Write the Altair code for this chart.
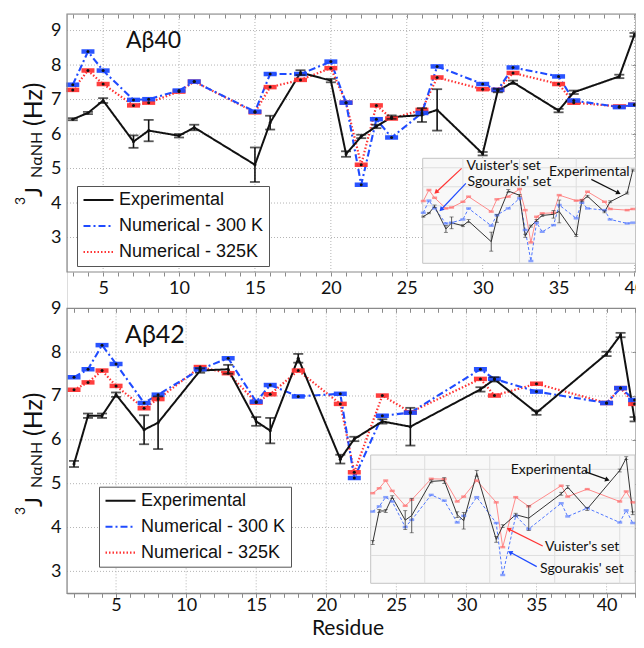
import math
import altair as alt
import pandas as pd

FONT = "Lato"
LFONT = "Liberation Sans"
BLACK = "#111111"
BLUE = "#1f4bff"
RED = "#ff3434"
GRID = "#b4b4b4"
FRAME = "#8a8a8a"
SER = ["Experimental", "Numerical - 300 K", "Numerical - 325K"]

# ---------------- A-beta 40 ----------------
res40 = [3, 4, 5, 7, 8, 10, 11, 15, 16, 18, 20, 21, 22, 23, 24, 26, 27, 30, 31, 32, 35, 36, 39, 40]
exp40 = [6.43, 6.61, 6.97, 5.78, 6.10, 5.95, 6.19, 5.11, 6.33, 7.78, 7.55, 5.42,
         5.93, 6.22, 6.49, 6.55, 6.70, 5.43, 7.26, 7.50, 6.68, 7.21, 7.67, 8.88]
err40 = [0.03, 0.03, 0.07, 0.18, 0.31, 0.05, 0.08, 0.50, 0.20, 0.07, 0.05, 0.08,
         0.05, 0.05, 0.05, 0.20, 0.60, 0.05, 0.05, 0.05, 0.05, 0.05, 0.05, 0.05]
n300_40 = [7.43, 8.39, 7.84, 6.99, 7.01, 7.26, 7.52, 6.65, 7.74, 7.74, 8.10, 6.91,
           4.53, 6.43, 5.90, 6.61, 7.96, 7.45, 7.28, 7.93, 7.67, 6.97, 6.78, 6.85]
n325_40 = [7.28, 7.84, 7.45, 6.83, 6.91, 7.23, 7.52, 6.63, 7.36, 7.57, 7.91, 6.91,
           5.11, 6.83, 6.45, 6.70, 7.64, 7.30, 7.28, 7.77, 7.45, 6.91, 6.80, 6.85]
vu40 = [7.25, 7.83, 7.42, 6.86, 6.91, 7.21, 7.48, 6.69, 7.34, 7.48, 7.88, 6.77,
        5.07, 6.42, 6.60, 6.63, 7.56, 7.27, 7.30, 7.74, 7.21, 6.83, 6.77, 6.83]
sg40 = [6.63, 7.27, 6.86, 6.07, 6.11, 6.28, 6.86, 5.95, 6.51, 6.86, 7.39, 5.72,
        4.09, 6.11, 5.63, 5.98, 7.04, 6.34, 7.16, 6.86, 6.77, 6.28, 6.07, 6.11]

# ---------------- A-beta 42 ----------------
res42 = [2, 3, 4, 5, 7, 8, 11, 13, 15, 16, 18, 21, 22, 24, 26, 31, 32, 35, 40, 41, 42]
exp42 = [5.45, 6.55, 6.55, 7.03, 6.23, 6.39, 7.58, 7.61, 6.42, 6.21, 7.86, 5.56,
         6.02, 6.42, 6.30, 7.15, 7.38, 6.62, 7.96, 8.39, 6.47]
err42 = [0.07, 0.05, 0.05, 0.05, 0.33, 0.60, 0.05, 0.10, 0.10, 0.29, 0.10, 0.10,
         0.05, 0.05, 0.43, 0.05, 0.05, 0.05, 0.05, 0.05, 0.05]
n300_42 = [7.43, 7.61, 8.16, 7.73, 6.84, 7.03, 7.61, 7.86, 6.87, 7.25, 6.99, 7.05,
           5.13, 6.55, 6.62, 7.61, 7.39, 7.10, 6.84, 7.18, 6.91]
n325_42 = [7.14, 7.31, 7.58, 7.23, 6.72, 6.93, 7.66, 7.52, 6.85, 7.04, 7.58, 6.82,
           5.26, 7.01, 6.63, 7.39, 7.01, 7.28, 6.84, 7.18, 6.82]
vu42 = [7.17, 7.34, 7.61, 7.25, 6.73, 6.94, 7.67, 7.66, 6.88, 7.05, 7.61, 6.85,
        5.29, 7.03, 6.71, 7.43, 7.05, 7.31, 6.88, 7.23, 6.85]
sg42 = [6.53, 6.71, 7.03, 6.88, 5.99, 6.24, 7.11, 6.91, 6.15, 6.38, 7.03, 6.13,
        4.32, 6.38, 5.92, 6.82, 6.36, 6.65, 6.15, 6.57, 6.13]

# inset annotations (inset data units)
ann40_text = ["Vuister's set", "Sgourakis' set", "Experimental"]
ann40_r = [10.65, 10.82, 25.2]
ann40_v = [9.09, 8.27, 8.79]
arr40 = {"r1": [9.77, 10.52, 32.67], "v1": [8.97, 8.18, 8.39],
         "r2": [5.36, 6.24, 37.36], "v2": [7.74, 6.83, 7.69],
         "c": [RED, BLUE, BLACK]}
ann42_text = ["Experimental", "Vuister's set", "Sgourakis' set"]
ann42_r = [23.23, 28.5, 27.74]
ann42_v = [7.98, 5.28, 4.52]
arr42 = {"r1": [34.66, 28.15, 27.23], "v1": [7.92, 5.33, 4.61],
         "r2": [38.0, 23.02, 23.23], "v2": [7.65, 5.91, 5.10],
         "c": [BLACK, RED, BLUE]}

W = 569
HT = 580  # whole plotting group height (both panels)


def panel(P):
    xd, yd, yr = P["xdom"], P["ydom"], P["yrng"]
    top_px, bot_px = yr[1], yr[0]
    df = pd.DataFrame({
        "r": P["res"], "exp": P["exp"],
        "lo": [e - s for e, s in zip(P["exp"], P["err"])],
        "hi": [e + s for e, s in zip(P["exp"], P["err"])],
        "n300": P["n300"], "n325": P["n325"], "vu": P["vu"], "sg": P["sg"],
    })

    def X(f, axis=None):
        return alt.X(f"{f}:Q", scale=alt.Scale(domain=xd, range=[0, W], nice=False, zero=False), axis=axis)

    def Y(f, axis=None):
        return alt.Y(f"{f}:Q", scale=alt.Scale(domain=yd, range=yr, nice=False, zero=False), axis=axis)

    ixd, ixr, iyd, iyr = P["ixd"], P["ixr"], P["iyd"], P["iyr"]

    def IX(f):
        return alt.X(f"{f}:Q", scale=alt.Scale(domain=ixd, range=ixr, nice=False, zero=False), axis=None)

    def IY(f):
        return alt.Y(f"{f}:Q", scale=alt.Scale(domain=iyd, range=iyr, nice=False, zero=False), axis=None)

    base = alt.Chart(df)
    L = []
    # grid lines
    vg = pd.DataFrame({"g": list(range(5, 41, 5)), "y0": yd[0], "y1": yd[1]})
    L.append(alt.Chart(vg).mark_rule(color=GRID, strokeWidth=1, strokeDash=[1, 2]).encode(
        x=X("g"), y=Y("y0"), y2="y1"))
    hg = pd.DataFrame({"g": [v for v in range(3, 10) if v < yd[1]], "x0": xd[0], "x1": xd[1]})
    L.append(alt.Chart(hg).mark_rule(color=GRID, strokeWidth=1, strokeDash=[1, 2]).encode(
        y=Y("g"), x=X("x0"), x2="x1"))

    # axes
    off_bottom = bot_px - HT
    xaxis = alt.Axis(values=list(range(5, 45, 5)), grid=False, ticks=False, tickSize=0, domain=False,
                     labelFont=FONT, labelFontSize=18, labelColor=BLACK,
                     labelPadding=P["xlabpad"], offset=off_bottom, orient="bottom", title=None)
    yaxis = alt.Axis(values=list(range(3, 10)), grid=False, ticks=False, tickSize=0, domain=False,
                     labelFont=FONT, labelFontSize=18, labelColor=BLACK, labelPadding=6,
                     title=None, orient="left")
    L.append(base.mark_point(opacity=0).encode(x=X("r", xaxis), y=Y("exp", yaxis)))
    minor = list(range(int(math.ceil(xd[0])), int(xd[1]) + 1))
    L.append(base.mark_point(opacity=0).encode(
        x=X("r", alt.Axis(values=minor, labels=False, grid=False, domain=False, tickSize=4,
                          tickColor=FRAME, title=None, offset=off_bottom, orient="bottom")), y=Y("exp")))
    L.append(base.mark_point(opacity=0).encode(
        x=X("r", alt.Axis(values=minor, labels=False, grid=False, domain=False, tickSize=4,
                          tickColor=FRAME, title=None, offset=top_px - HT, orient="bottom")), y=Y("exp")))
    L.append(base.mark_point(opacity=0).encode(
        x=X("r"), y=Y("exp", alt.Axis(values=list(range(3, 10)), labels=False, grid=False,
                                      domain=False, tickSize=4, tickColor=FRAME, title=None,
                                      offset=-W, orient="left"))))

    # main lines with legend
    long = pd.concat([
        pd.DataFrame({"r": P["res"], "v": P["n325"], "series": SER[2], "k": 0}),
        pd.DataFrame({"r": P["res"], "v": P["n300"], "series": SER[1], "k": 1}),
        pd.DataFrame({"r": P["res"], "v": P["exp"], "series": SER[0], "k": 2}),
    ])
    leg = alt.Legend(orient="none", legendX=P["legx"], legendY=P["legy"], title=None,
                     fillColor="white", strokeColor="#555555", padding=5,
                     symbolType="stroke", symbolSize=900, symbolStrokeWidth=2,
                     labelFont=LFONT, labelFontSize=18, labelColor=BLACK, labelOffset=4,
                     rowPadding=8, clipHeight=18, labelLimit=300)
    L.append(alt.Chart(long).mark_line().encode(
        x=X("r"), y=Y("v"),
        color=alt.Color("series:N", scale=alt.Scale(domain=SER, range=[BLACK, BLUE, RED]), legend=leg),
        strokeDash=alt.StrokeDash("series:N", scale=alt.Scale(domain=SER, range=[[1, 0], [7, 3, 2, 3], [1.5, 2]]), legend=leg),
        strokeWidth=alt.StrokeWidth("series:N", scale=alt.Scale(domain=SER, range=[2, 2.2, 1.6]), legend=None),
        detail="k:N",
    ))
    L.append(base.mark_tick(orient="horizontal", size=13, thickness=4.5, color=RED, opacity=0.95).encode(x=X("r"), y=Y("n325")))
    L.append(base.mark_tick(orient="horizontal", size=13, thickness=4.5, color=BLUE, opacity=0.95).encode(x=X("r"), y=Y("n300")))
    L.append(base.mark_rule(color=BLACK, strokeWidth=1.6).encode(x=X("r"), y=Y("lo"), y2="hi:Q"))
    L.append(base.mark_tick(orient="horizontal", size=10, thickness=1.8, color=BLACK).encode(x=X("r"), y=Y("lo")))
    L.append(base.mark_tick(orient="horizontal", size=10, thickness=1.8, color=BLACK).encode(x=X("r"), y=Y("hi")))
    for f in ["n325", "n300", "exp"]:
        L.append(base.mark_point(filled=True, size=9, color=BLACK, opacity=1).encode(x=X("r"), y=Y(f)))

    # frame of the panel
    fr = pd.DataFrame({"x0": [xd[0]], "x1": [xd[1]], "y0": [yd[0]], "y1": [yd[1]]})
    L.append(alt.Chart(fr).mark_rect(fill=None, stroke=FRAME, strokeWidth=1.2).encode(
        x=X("x0"), x2="x1", y=Y("y0"), y2="y1"))

    # ---- inset ----
    box = pd.DataFrame({"x0": [ixd[0]], "x1": [ixd[1]], "y0": [iyd[0]], "y1": [iyd[1]]})
    L.append(alt.Chart(box).mark_rect(fill="#f8f8f8", stroke="#c4c4c4", strokeWidth=1).encode(
        x=IX("x0"), x2="x1", y=IY("y0"), y2="y1"))
    ivg = pd.DataFrame({"g": P["ivgrid"], "y0": iyd[0], "y1": iyd[1]})
    L.append(alt.Chart(ivg).mark_rule(color="#dedede", strokeWidth=1).encode(x=IX("g"), y=IY("y0"), y2="y1"))
    ihg = pd.DataFrame({"g": P["ihgrid"], "x0": ixd[0], "x1": ixd[1]})
    L.append(alt.Chart(ihg).mark_rule(color="#dedede", strokeWidth=1).encode(y=IY("g"), x=IX("x0"), x2="x1"))
    L.append(base.mark_line(color="#ff8c8c", strokeWidth=1).encode(x=IX("r"), y=IY("vu")))
    L.append(base.mark_line(color="#5077ff", strokeWidth=1, strokeDash=[3, 2]).encode(x=IX("r"), y=IY("sg")))
    L.append(base.mark_line(color="#333333", strokeWidth=1).encode(x=IX("r"), y=IY("exp")))
    L.append(base.mark_tick(orient="horizontal", size=5, thickness=2.5, color="#ff6a6a").encode(x=IX("r"), y=IY("vu")))
    L.append(base.mark_tick(orient="horizontal", size=5, thickness=2.5, color="#5a7dff").encode(x=IX("r"), y=IY("sg")))
    L.append(base.mark_rule(color="#333333", strokeWidth=0.8).encode(x=IX("r"), y=IY("lo"), y2="hi:Q"))
    L.append(base.mark_tick(orient="horizontal", size=4, thickness=0.8, color="#333333").encode(x=IX("r"), y=IY("lo")))
    L.append(base.mark_tick(orient="horizontal", size=4, thickness=0.8, color="#333333").encode(x=IX("r"), y=IY("hi")))

    ann = pd.DataFrame({"t": P["ann_t"], "r": P["ann_r"], "v": P["ann_v"]})
    L.append(alt.Chart(ann).mark_text(align="left", baseline="middle", font=FONT, fontSize=14, color=BLACK).encode(
        x=IX("r"), y=IY("v"), text="t:N"))
    arr = pd.DataFrame(P["arr"])
    sx = (ixr[1] - ixr[0]) / (ixd[1] - ixd[0])
    sy = (iyr[0] - iyr[1]) / (iyd[1] - iyd[0])
    arr["a"] = [(math.degrees(math.atan2((r2 - r1) * sx, (v2 - v1) * sy)) + 360) % 360
                for r1, v1, r2, v2 in zip(arr.r1, arr.v1, arr.r2, arr.v2)]
    L.append(alt.Chart(arr).mark_rule(strokeWidth=1.2).encode(
        x=IX("r1"), y=IY("v1"), x2="r2", y2="v2", color=alt.Color("c:N", scale=None)))
    L.append(alt.Chart(arr).mark_point(shape="triangle", filled=True, size=28, opacity=1).encode(
        x=IX("r2"), y=IY("v2"), angle=alt.Angle("a:Q", scale=None), color=alt.Color("c:N", scale=None)))

    # panel label and y title pieces
    one = pd.DataFrame({"k": [0]})
    L.append(alt.Chart(one).mark_text(text=P["label"], font=FONT, fontSize=P["labsize"], align="left",
                                      baseline="alphabetic", color=BLACK).encode(
        x=alt.value(P["labx"]), y=alt.value(top_px + P["laby"])))
    c = P["tc"]
    pieces = [("3", 14, -42, c + 66), ("J", 24, -25, c + 58), ("NαNH", 16, -25, c + 39), ("(Hz)", 25, -25, c - 13)]
    for t, fs, bx, sy0 in pieces:
        L.append(alt.Chart(one).mark_text(text=t, font=FONT, fontSize=fs, angle=270, align="left",
                                          baseline="alphabetic", color=BLACK).encode(
            x=alt.value(bx), y=alt.value(sy0)))
    if P["xtitle"]:
        L.append(alt.Chart(one).mark_text(text=P["xtitle"], font=FONT, fontSize=21, align="center",
                                          baseline="alphabetic", color=BLACK).encode(
            x=alt.value(281), y=alt.value(bot_px + 42.1)))
    return L


top_layers = panel(dict(
    xdom=[2.62, 40.1], ydom=[2.0, 9.48], yrng=[258, 0],
    res=res40, exp=exp40, err=err40, n300=n300_40, n325=n325_40, vu=vu40, sg=sg40,
    xlabpad=7, xtitle=None, legx=10, legy=172,
    ixd=[2.9, 40.47], ixr=[355.7, 568.5], iyd=[3.97, 9.5], iyr=[249.3, 144.3],
    ivgrid=[10, 20, 30], ihgrid=[5, 6, 7, 8, 9],
    ann_t=ann40_text, ann_r=ann40_r, ann_v=ann40_v, arr=arr40,
    label="Aβ40", labsize=23, labx=59, laby=34, tc=125,
))
bottom_layers = panel(dict(
    xdom=[1.5, 42.1], ydom=[2.5, 9.0], yrng=[579.3, 294.3],
    res=res42, exp=exp42, err=err42, n300=n300_42, n325=n325_42, vu=vu42, sg=sg42,
    xlabpad=3, xtitle="Residue", legx=32, legy=472.7,
    ixd=[1.69, 42.35], ixr=[303.7, 568], iyd=[4.03, 8.5], iyr=[569.3, 441],
    ivgrid=[10, 20, 30, 40], ihgrid=[5, 6, 7, 8],
    ann_t=ann42_text, ann_r=ann42_r, ann_v=ann42_v, arr=arr42,
    label="Aβ42", labsize=25, labx=58, laby=34.4, tc=435,
))

chart = alt.layer(*(top_layers + bottom_layers)).resolve_scale(
    x="independent", y="independent", color="independent",
    strokeDash="independent", strokeWidth="independent"
).properties(
    width=W, height=HT,
    autosize=alt.AutoSizeParams(type="none"),
    padding={"left": 59, "top": 6, "right": 0, "bottom": 46},
).configure_view(stroke=None).configure(background="white")

chart.save("out.html", embed_options={"renderer": "svg", "actions": False})
